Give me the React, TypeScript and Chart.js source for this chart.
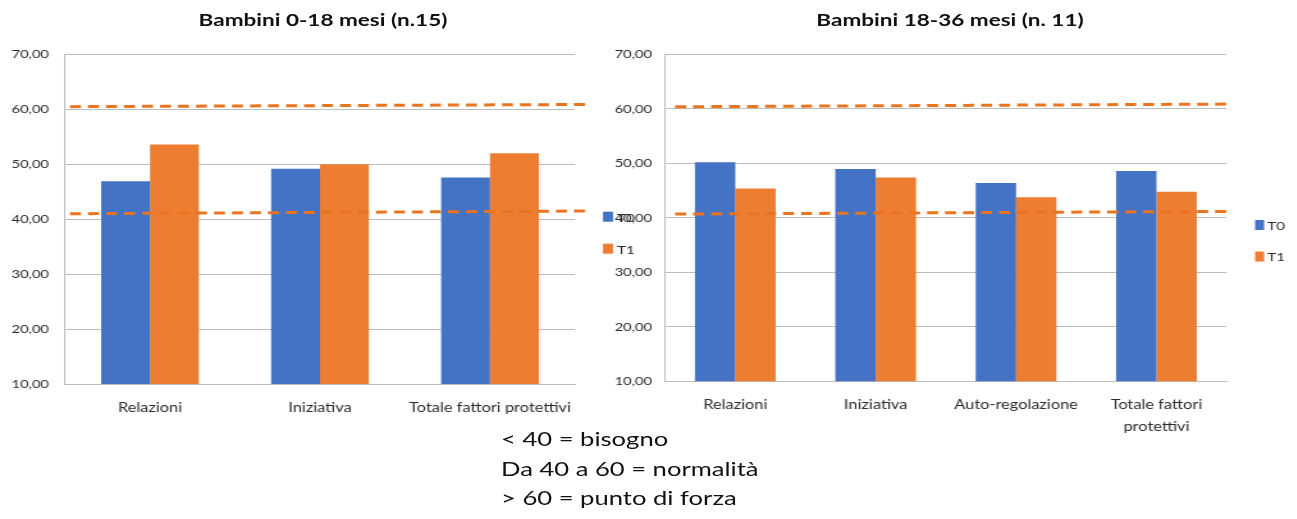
import React, { useEffect, useRef } from 'react';
import { Chart, registerables } from 'chart.js';

Chart.register(...registerables);

// Series
const seriesNames = ['T0', 'T1'];
const seriesColors = ['#4472C4', '#ED7D31'];

// Bambini 0-18 mesi
const infantTitle = 'Bambini 0-18 mesi (n.15)';
const infantCategories: (string | string[])[] = ['Relazioni', 'Iniziativa', 'Totale fattori protettivi'];
const infantT0 = [46.9, 49.2, 47.6];
const infantT1 = [53.6, 50.0, 52.0];

// Bambini 18-36 mesi
const toddlerTitle = 'Bambini 18-36 mesi (n. 11)';
const toddlerCategories: (string | string[])[] = ['Relazioni', 'Iniziativa', 'Auto-regolazione', ['Totale fattori', 'protettivi']];
const toddlerT0 = [50.2, 49.0, 46.4, 48.6];
const toddlerT1 = [45.4, 47.4, 43.8, 44.8];

// Value axis
const yTicks = [10, 20, 30, 40, 50, 60, 70];

// Dashed reference guides (start value, end value) — hand-drawn, slightly tilted
const infantGuides: [number, number][] = [[60.5, 60.9], [41.0, 41.5]];
const toddlerGuides: [number, number][] = [[60.4, 60.9], [40.7, 41.2]];

// Reading key
const scoreKey = ['< 40 = bisogno', 'Da 40 a 60 = normalità', '> 60 = punto di forza'];

const FONT = 'Lato, "Open Sans", "DejaVu Sans", sans-serif';

// The whole figure is laid out in a narrower box and widened horizontally.
const STRETCH = 1.28;
const sx = (v: number) => v / STRETCH;

const formatTick = (v: number) => v.toFixed(2).replace('.', ',');

const guidePlugin = {
  id: 'guides',
  afterDatasetsDraw(chart: any, _args: any, opts: any) {
    const { ctx, chartArea, scales } = chart;
    const y = scales.y;
    ctx.save();
    ctx.strokeStyle = opts.color;
    ctx.lineWidth = opts.width;
    ctx.setLineDash(opts.dash);
    (opts.lines as [number, number][]).forEach(([a, b]) => {
      ctx.beginPath();
      ctx.moveTo(chartArea.left + opts.inset, y.getPixelForValue(a));
      ctx.lineTo(chartArea.right + opts.overshoot, y.getPixelForValue(b));
      ctx.stroke();
    });
    ctx.restore();
  },
};

const keyPlugin = {
  id: 'seriesKey',
  afterDraw(chart: any, _args: any, opts: any) {
    const { ctx } = chart;
    ctx.save();
    ctx.font = `${opts.fontSize}px ${FONT}`;
    ctx.textBaseline = 'middle';
    ctx.textAlign = 'left';
    chart.data.datasets.forEach((ds: any, i: number) => {
      const cy = opts.y + i * opts.gap;
      ctx.fillStyle = ds.backgroundColor;
      ctx.fillRect(opts.x, cy - opts.boxH / 2, opts.boxW, opts.boxH);
      ctx.fillStyle = opts.color;
      ctx.fillText(ds.label, opts.x + opts.boxW + opts.textGap, cy + 1);
    });
    ctx.restore();
  },
};

type PanelProps = {
  categories: (string | string[])[];
  t0: number[];
  t1: number[];
  guides: [number, number][];
  left: number;
  width: number;
  height: number;
  pad: { top: number; right: number; bottom: number; left: number };
  yWidth: number;
  yPad: number;
  xHeight: number;
  yFont: number;
  xFont: number;
  xLine: number;
  xPad: number;
  guideInset: number;
  guideOvershoot: number;
  legendPos: { x: number; y: number; gap: number; boxW: number; boxH: number; textGap: number; fontSize: number };
};

function BarPanel(p: PanelProps) {
  const ref = useRef<HTMLCanvasElement | null>(null);
  const w = Math.round(p.width);

  useEffect(() => {
    if (!ref.current) return;
    const gridColor = '#BDBDBD';
    const textColor = '#2B2B2B';
    const chart = new Chart(ref.current, {
      type: 'bar',
      data: {
        labels: p.categories as any,
        datasets: [
          { label: seriesNames[0], data: p.t0, backgroundColor: seriesColors[0], borderWidth: 0 },
          { label: seriesNames[1], data: p.t1, backgroundColor: seriesColors[1], borderWidth: 0 },
        ],
      },
      options: {
        responsive: false,
        animation: false,
        devicePixelRatio: 1,
        layout: { padding: p.pad },
        datasets: { bar: { categoryPercentage: 0.575, barPercentage: 1 } },
        plugins: {
          legend: { display: false },
          title: { display: false },
          tooltip: { enabled: false },
          guides: {
            lines: p.guides,
            color: '#E9741F',
            width: 3,
            dash: [sx(11), sx(7)],
            inset: p.guideInset,
            overshoot: p.guideOvershoot,
          },
          seriesKey: { ...p.legendPos, color: textColor },
        } as any,
        scales: {
          x: {
            grid: { display: false, drawTicks: false },
            border: { display: true, color: gridColor, width: 1 },
            ticks: {
              autoSkip: false,
              maxRotation: 0,
              minRotation: 0,
              padding: p.xPad,
              color: textColor,
              font: { family: FONT, size: p.xFont, lineHeight: `${p.xLine}px` },
            },
            afterFit: (s: any) => { s.height = p.xHeight; },
          },
          y: {
            min: yTicks[0],
            max: yTicks[yTicks.length - 1],
            afterBuildTicks: (s: any) => { s.ticks = yTicks.map((v) => ({ value: v })); },
            grid: { color: gridColor, lineWidth: 1, drawTicks: false },
            border: { display: true, color: gridColor, width: 1 },
            ticks: {
              padding: p.yPad,
              color: textColor,
              font: { family: FONT, size: p.yFont },
              callback: (v: any) => formatTick(Number(v)),
            },
            afterFit: (s: any) => { s.width = p.yWidth; },
          },
        },
      },
      plugins: [guidePlugin, keyPlugin],
    });
    return () => chart.destroy();
  }, []);

  return (
    <canvas
      ref={ref}
      width={w}
      height={p.height}
      style={{ position: 'absolute', left: p.left, top: 0, width: w, height: p.height }}
    />
  );
}

const titleStyle = (center: number, size: number): React.CSSProperties => ({
  position: 'absolute',
  left: sx(center) - 150,
  width: 300,
  top: 8,
  textAlign: 'center',
  fontFamily: FONT,
  fontWeight: 700,
  fontSize: size,
  lineHeight: '24px',
  color: '#111',
});

export default function App() {
  return (
    <div style={{ position: 'absolute', left: 0, top: 0, width: 1297, height: 519, background: '#fff', overflow: 'hidden' }}>
      <div
        style={{
          position: 'absolute',
          left: 0,
          top: 0,
          width: sx(1297),
          height: 519,
          transform: `scaleX(${STRETCH})`,
          transformOrigin: '0 0',
        }}
      >
        <BarPanel
          categories={infantCategories}
          t0={infantT0}
          t1={infantT1}
          guides={infantGuides}
          left={0}
          width={sx(640)}
          height={440}
          pad={{ top: 54.5, right: sx(65), bottom: 0, left: 0 }}
          yWidth={sx(65)}
          yPad={sx(16)}
          xHeight={56}
          yFont={11.5}
          xFont={12.8}
          xLine={16}
          xPad={15.5}
          guideInset={sx(5)}
          guideOvershoot={sx(10)}
          legendPos={{ x: sx(603), y: 216.7, gap: 32, boxW: sx(10), boxH: 10, textGap: sx(4), fontSize: 12 }}
        />
        <BarPanel
          categories={toddlerCategories}
          t0={toddlerT0}
          t1={toddlerT1}
          guides={toddlerGuides}
          left={sx(590)}
          width={sx(707)}
          height={440}
          pad={{ top: 54.5, right: sx(70), bottom: 0, left: 0 }}
          yWidth={sx(75)}
          yPad={sx(13)}
          xHeight={58.7}
          yFont={11.5}
          xFont={12.8}
          xLine={22}
          xPad={12.5}
          guideInset={sx(10)}
          guideOvershoot={sx(6)}
          legendPos={{ x: sx(1255 - 590), y: 225, gap: 31.5, boxW: sx(9), boxH: 10, textGap: sx(3), fontSize: 12 }}
        />
        <div style={titleStyle(323, 17.6)}>{infantTitle}</div>
        <div style={titleStyle(950, 17.6)}>{toddlerTitle}</div>
        <div
          style={{
            position: 'absolute',
            left: sx(501),
            top: 424,
            fontFamily: FONT,
            fontSize: 20,
            lineHeight: '29.7px',
            color: '#111',
            whiteSpace: 'nowrap',
          }}
        >
          {scoreKey.map((line) => (
            <div key={line}>{line}</div>
          ))}
        </div>
      </div>
    </div>
  );
}
